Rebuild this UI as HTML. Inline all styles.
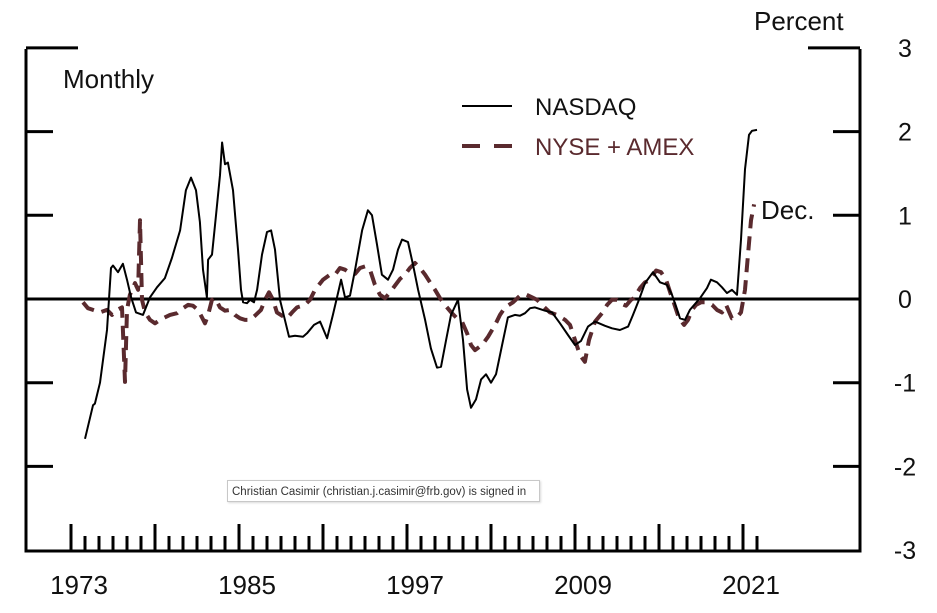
<!DOCTYPE html>
<html><head><meta charset="utf-8"><style>
html,body{margin:0;padding:0;background:#fff;}
svg{display:block;font-family:"Liberation Sans",Arial,sans-serif;}
.tip{position:absolute;left:227px;top:480px;width:313px;height:22px;border:1px solid #c8c8c8;background:#fff;font:11.5px "Liberation Sans",sans-serif;color:#333;line-height:22px;padding-left:4px;box-sizing:border-box;white-space:nowrap;overflow:hidden;box-shadow:1px 1px 2px rgba(0,0,0,.15)}
</style></head><body>
<div style="position:relative;width:937px;height:613px;overflow:hidden">
<svg id="c" width="937" height="613"></svg>
<div class="tip">Christian Casimir (christian.j.casimir@frb.gov) is signed in</div>
</div>
<script>
const yTicks=[3,2,1,0,-1,-2,-3];
const xLabels=[1973,1985,1997,2009,2021];
const nasdaqYears=[];const nasdaqVals=[];
const nyseYears=[];const nyseVals=[];
// digitized as [year, percent]
const nasdaqPts=[[1974.00,-1.67],[1974.57,-1.27],[1974.71,-1.25],[1975.07,-1.00],[1975.57,-0.37],[1975.86,0.37],[1976.00,0.40],[1976.36,0.32],[1976.71,0.42],[1977.00,0.23],[1977.29,0.02],[1977.64,-0.16],[1978.14,-0.19],[1978.64,0.02],[1979.14,0.14],[1979.71,0.25],[1980.21,0.49],[1980.79,0.82],[1981.21,1.30],[1981.57,1.45],[1981.93,1.30],[1982.21,0.92],[1982.43,0.35],[1982.71,0.02],[1982.79,0.47],[1983.07,0.53],[1983.36,1.00],[1983.64,1.48],[1983.79,1.87],[1984.00,1.61],[1984.21,1.63],[1984.57,1.30],[1984.93,0.59],[1985.14,0.11],[1985.29,-0.04],[1985.57,-0.05],[1985.79,-0.01],[1986.07,-0.04],[1986.29,0.11],[1986.64,0.53],[1987.00,0.80],[1987.29,0.82],[1987.57,0.59],[1987.93,-0.01],[1988.57,-0.45],[1989.00,-0.44],[1989.57,-0.45],[1989.86,-0.41],[1990.36,-0.31],[1990.79,-0.27],[1991.29,-0.47],[1991.71,-0.19],[1992.07,0.07],[1992.29,0.23],[1992.57,0.02],[1992.93,0.04],[1993.29,0.35],[1993.79,0.82],[1994.21,1.06],[1994.50,1.00],[1994.86,0.65],[1995.21,0.29],[1995.64,0.23],[1996.00,0.35],[1996.36,0.59],[1996.64,0.71],[1997.07,0.68],[1997.43,0.41],[1997.79,0.11],[1998.29,-0.25],[1998.71,-0.59],[1999.14,-0.82],[1999.43,-0.81],[1999.79,-0.49],[2000.14,-0.19],[2000.64,-0.01],[2001.00,-0.49],[2001.29,-1.08],[2001.57,-1.30],[2001.93,-1.20],[2002.29,-0.96],[2002.64,-0.90],[2003.00,-1.00],[2003.36,-0.90],[2003.79,-0.55],[2004.21,-0.22],[2004.71,-0.19],[2005.07,-0.20],[2005.43,-0.17],[2005.79,-0.11],[2006.14,-0.10],[2006.86,-0.14],[2007.36,-0.16],[2007.93,-0.29],[2008.50,-0.43],[2009.00,-0.55],[2009.43,-0.50],[2009.93,-0.33],[2010.43,-0.27],[2011.14,-0.32],[2011.64,-0.35],[2012.21,-0.37],[2012.79,-0.33],[2013.14,-0.19],[2013.57,-0.01],[2014.00,0.19],[2014.57,0.32],[2015.07,0.20],[2015.57,0.17],[2015.93,0.05],[2016.50,-0.23],[2016.86,-0.25],[2017.21,-0.13],[2017.93,0.01],[2018.43,0.13],[2018.71,0.23],[2019.14,0.20],[2019.50,0.14],[2019.86,0.07],[2020.21,0.11],[2020.57,0.05],[2020.86,0.71],[2021.14,1.55],[2021.43,1.96],[2021.64,2.01],[2022.00,2.02]];
const nysePts=[[1973.86,-0.04],[1974.21,-0.11],[1974.57,-0.13],[1975.07,-0.16],[1975.57,-0.13],[1975.93,-0.19],[1976.29,-0.13],[1976.64,-0.10],[1976.86,-0.99],[1977.00,-0.13],[1977.21,0.05],[1977.57,0.19],[1977.79,0.11],[1977.93,0.94],[1978.07,-0.01],[1978.29,-0.16],[1978.64,-0.25],[1979.00,-0.29],[1979.36,-0.25],[1979.71,-0.22],[1980.07,-0.19],[1980.57,-0.17],[1981.00,-0.11],[1981.36,-0.07],[1981.71,-0.08],[1982.07,-0.13],[1982.36,-0.22],[1982.57,-0.29],[1982.79,-0.19],[1983.07,-0.01],[1983.29,0.01],[1983.64,-0.10],[1984.00,-0.14],[1984.36,-0.13],[1984.71,-0.19],[1985.07,-0.23],[1985.43,-0.25],[1985.79,-0.25],[1986.14,-0.20],[1986.57,-0.13],[1986.86,-0.01],[1987.14,0.08],[1987.43,-0.01],[1987.71,-0.16],[1988.07,-0.20],[1988.43,-0.23],[1988.79,-0.16],[1989.14,-0.10],[1989.71,-0.07],[1990.07,-0.01],[1990.43,0.11],[1991.00,0.23],[1991.50,0.29],[1991.86,0.29],[1992.21,0.37],[1992.57,0.35],[1992.93,0.31],[1993.29,0.30],[1993.64,0.37],[1994.00,0.39],[1994.36,0.35],[1994.71,0.17],[1995.07,0.05],[1995.43,0.01],[1995.79,0.08],[1996.14,0.16],[1996.50,0.24],[1996.86,0.29],[1997.21,0.37],[1997.57,0.43],[1997.93,0.37],[1998.29,0.29],[1998.64,0.20],[1999.00,0.11],[1999.36,0.01],[1999.71,-0.07],[2000.21,-0.17],[2000.57,-0.23],[2000.93,-0.27],[2001.29,-0.41],[2001.57,-0.55],[2001.86,-0.61],[2002.36,-0.55],[2002.79,-0.45],[2003.29,-0.31],[2003.64,-0.19],[2004.00,-0.10],[2004.57,-0.04],[2005.07,0.04],[2005.43,0.06],[2005.93,0.02],[2006.29,-0.01],[2006.64,-0.07],[2007.21,-0.16],[2007.71,-0.19],[2008.29,-0.25],[2008.64,-0.31],[2009.00,-0.49],[2009.36,-0.67],[2009.71,-0.75],[2010.00,-0.49],[2010.43,-0.27],[2010.93,-0.17],[2011.29,-0.07],[2011.64,-0.01],[2012.00,-0.01],[2012.36,-0.06],[2012.64,-0.08],[2013.00,-0.01],[2013.21,0.01],[2013.64,0.13],[2014.00,0.20],[2014.29,0.22],[2014.79,0.34],[2015.14,0.32],[2015.50,0.23],[2015.86,0.05],[2016.07,-0.05],[2016.43,-0.23],[2016.79,-0.31],[2017.07,-0.25],[2017.36,-0.13],[2017.64,-0.07],[2018.00,-0.04],[2018.36,-0.04],[2018.79,-0.07],[2019.14,-0.13],[2019.50,-0.16],[2019.79,-0.07],[2020.21,-0.23],[2020.57,-0.22],[2020.86,-0.16],[2021.14,0.11],[2021.36,0.53],[2021.57,0.94],[2021.79,1.13]];
nasdaqPts.forEach(p=>{nasdaqYears.push(p[0]);nasdaqVals.push(p[1]);});
nysePts.forEach(p=>{nyseYears.push(p[0]);nyseVals.push(p[1]);});

const svg=document.getElementById('c');const NS='http://www.w3.org/2000/svg';
const X=y=>71+(y-1973)*14;
const Y=v=>299-v*83.7;
function mk(tag,at,txt){const e=document.createElementNS(NS,tag);for(const k in at)e.setAttribute(k,at[k]);if(txt!=null)e.textContent=txt;svg.appendChild(e);return e;}
let e;
e=mk('path',{d:'M26,49 V551 H860 V49',fill:'none',stroke:'#000','stroke-width':3});


yTicks.forEach(v=>{
  const y=Y(v);const L=v===3?52:27;
  if(v>-3){
    e=mk('line',{x1:26,x2:26+L,y1:y,y2:y,stroke:'#000','stroke-width':3});
    
    
    e=mk('line',{x1:860-L,x2:860,y1:y,y2:y,stroke:'#000','stroke-width':3});
    
    
  }
  e=mk('text',{x:905,y:y+9,'font-size':25,'text-anchor':'middle',fill:'#111'},String(v));
  
  
});
for(let yr=1973;yr<=2022;yr++){
  const maj=(yr-1973)%6===0;
  e=mk('line',{x1:X(yr),x2:X(yr),y1:551,y2:maj?524:536,stroke:'#000','stroke-width':3});
  
  
}
xLabels.forEach(yr=>{
  e=mk('text',{x:X(yr)+8,y:594,'font-size':26,'text-anchor':'middle',fill:'#111'},String(yr));
  
  
});
e=mk('line',{x1:26,x2:860,y1:Y(0),y2:Y(0),stroke:'#000','stroke-width':3});


const pathOf=(xs,vs)=>xs.map((x,i)=>(i?'L':'M')+X(x).toFixed(1)+','+Y(vs[i]).toFixed(1)).join(' ');
e=mk('path',{d:pathOf(nyseYears,nyseVals),fill:'none',stroke:'#5a2a2e','stroke-width':4,'stroke-dasharray':'14,8','stroke-linejoin':'round'});


e=mk('path',{d:pathOf(nasdaqYears,nasdaqVals),fill:'none',stroke:'#000','stroke-width':2,'stroke-linejoin':'round'});


e=mk('text',{x:63,y:88,'font-size':26,fill:'#111'},'Monthly');


e=mk('text',{x:754,y:30,'font-size':26,fill:'#111'},'Percent');


e=mk('text',{x:761,y:219,'font-size':26,fill:'#111'},'Dec.');


e=mk('line',{x1:462,x2:512,y1:106,y2:106,stroke:'#000','stroke-width':2});


e=mk('text',{x:535,y:115,'font-size':24,fill:'#111'},'NASDAQ');


e=mk('line',{x1:462,x2:512,y1:146,y2:146,stroke:'#5a2a2e','stroke-width':4,'stroke-dasharray':'18,14'});


e=mk('text',{x:535,y:155,'font-size':24,fill:'#5a2a2e'},'NYSE + AMEX');


</script>
</body></html>
